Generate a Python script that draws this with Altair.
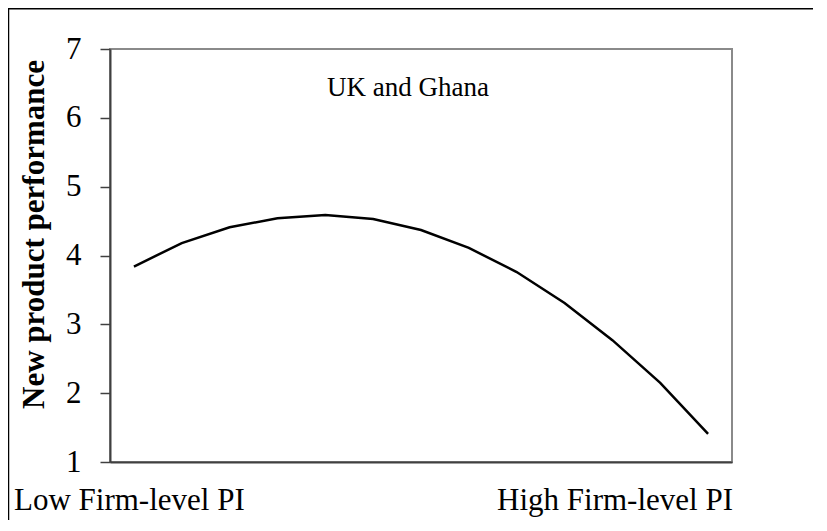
import altair as alt
import pandas as pd

# ---- data ----
points = list(range(1, 14))
performance = [3.84, 4.18, 4.41, 4.54, 4.59, 4.53, 4.37, 4.11, 3.76, 3.31, 2.77, 2.15, 1.41]
y_ticks = [1, 2, 3, 4, 5, 6, 7]
panel_label = ["UK and Ghana"]
low_label = ["Low Firm-level PI"]
high_label = ["High Firm-level PI"]
y_title = "New product performance"

W, H = 622, 413
serif = "Liberation Serif"
dark = "#404040"

df = pd.DataFrame({"pt": points, "perf": performance})

line = alt.Chart(df).mark_line(color="black", strokeWidth=2.5).encode(
    x=alt.X(
        "pt:Q",
        scale=alt.Scale(domain=[0.5, 13.5], nice=False, zero=False),
        axis=alt.Axis(labels=False, ticks=False, title=None, grid=False,
                      domainColor=dark, domainWidth=2),
    ),
    y=alt.Y(
        "perf:Q",
        scale=alt.Scale(domain=[1, 7], nice=False, zero=False),
        axis=alt.Axis(values=y_ticks, grid=False, tickSize=10, tickColor=dark,
                      tickWidth=1.5, domainColor=dark, domainWidth=2,
                      labelFont=serif, labelFontSize=31, labelColor="black",
                      labelPadding=19, title=y_title, titleFont=serif,
                      titleFontSize=31, titleFontWeight="bold", titleColor="black",
                      titleAngle=-90, titleAlign="center", titleBaseline="alphabetic",
                      titleX=-67, titleY=185),
    ),
)

panel = alt.Chart(pd.DataFrame({"t": panel_label})).mark_text(
    font=serif, fontSize=27, color="black", align="left", baseline="alphabetic"
).encode(text="t:N", x=alt.value(217), y=alt.value(47))

low = alt.Chart(pd.DataFrame({"t": low_label})).mark_text(
    font=serif, fontSize=31, color="black", align="left", baseline="alphabetic"
).encode(text="t:N", x=alt.value(-96), y=alt.value(461))

high = alt.Chart(pd.DataFrame({"t": high_label})).mark_text(
    font=serif, fontSize=31, color="black", align="right", baseline="alphabetic"
).encode(text="t:N", x=alt.value(623), y=alt.value(461))

frame = pd.DataFrame({"k": [0]})
border_left = alt.Chart(frame).mark_rule(color="black", strokeWidth=1.5).encode(
    x=alt.value(-101.5), y=alt.value(-41), y2=alt.value(480)
)
border_top = alt.Chart(frame).mark_rule(color="black", strokeWidth=2).encode(
    y=alt.value(-40.5), x=alt.value(-102), x2=alt.value(705)
)

chart = alt.layer(line, panel, low, high, border_left, border_top).properties(
    width=W, height=H,
    autosize=alt.AutoSizeParams(type="none"),
    padding={"left": 102, "top": 41, "right": 81, "bottom": 58},
    background="white",
).configure_view(stroke="#8a8a8a", strokeWidth=2)

chart.save("out.html", embed_options={"renderer": "svg", "actions": False})
